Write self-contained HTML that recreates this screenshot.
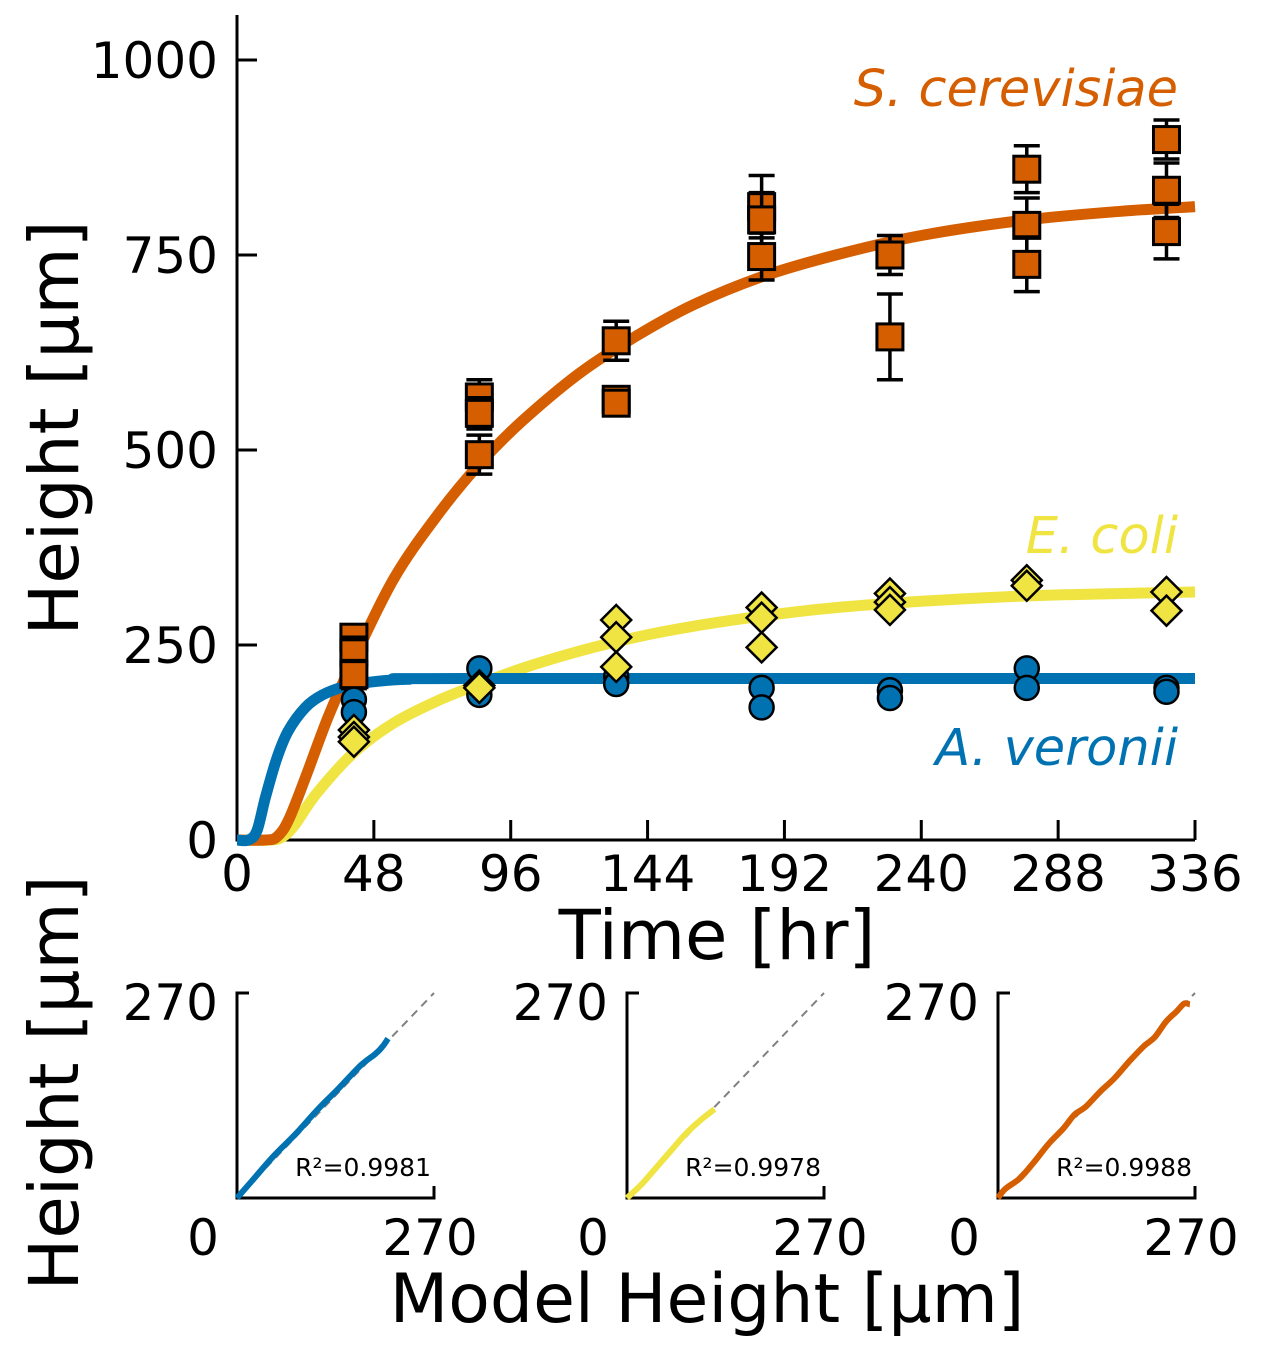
<!DOCTYPE html>
<html><head><meta charset="utf-8"><style>
html,body{margin:0;padding:0;background:#fff;}
svg{display:block;font-family:"DejaVu Sans","Liberation Sans",sans-serif;}
</style></head><body>
<svg id="c" width="1270" height="1350" viewBox="0 0 1270 1350" xmlns="http://www.w3.org/2000/svg"></svg>
<script>
// ---- main chart data ----
const xTicks = [0,48,96,144,192,240,288,336];
const yTicks = [0,250,500,750,1000];
const scTimes = [41,41,41,85,85,85,133,133,133,184,184,184,229,229,277,277,277,326,326,326];
const scVals  = [260,240,212,568,547,494,640,565,560,812,795,748,750,645,860,788,738,898,833,780];
const scErr   = [15,20,18,22,20,25,25,15,15,40,35,30,25,55,30,35,35,25,35,35];
const ecTimes = [41,41,41,85,85,133,133,133,184,184,184,229,229,229,277,277,326,326];
const ecVals  = [141,132,126,198,195,282,260,222,298,285,247,316,305,295,333,326,318,294];
const avTimes = [41,41,85,85,133,133,184,184,229,229,277,277,326,326];
const avVals  = [180,164,220,186,210,200,195,170,192,182,220,195,195,190];
// fitted curves
const avCurveT = [0,4,7,10,14,18,24,30,38,48,60,80,336];
const avCurveH = [0,0,12,55,105,140,170,186,197,203,206,207,207];
const scCurveT = [0,10,14,18,24,32,41,55,70,85,100,120,140,160,184,210,240,277,310,336];
const scCurveH = [0,0,4,25,80,158,232,335,415,482,537,598,646,686,722,750,775,795,806,812];
const ecCurveT = [0,12,16,20,28,41,55,70,85,100,120,140,160,184,210,240,277,310,336];
const ecCurveH = [0,0,4,18,60,112,150,178,200,220,242,260,274,287,298,306,313,316,318];
// ---- QQ panels ----
const qqTicks = [0,270];
const avModel = [0,20,50,80,110,140,170,190,200,207];
const avObs   = [0,22,55,84,116,145,175,190,200,210];
const ecModel = [0,20,40,60,80,100,120];
const ecObs   = [0,18,40,62,84,102,117];
const scModel = [0,10,30,50,70,90,105,120,140,160,180,200,215,230,245,255,263];
const scObs   = [0,12,26,48,72,92,110,120,140,158,180,200,212,232,246,256,255];
const r2Labels = ["R²=0.9981","R²=0.9978","R²=0.9988"];

const BLUE="#0072B2", YEL="#F0E442", ORG="#D55E00";
const svg=document.getElementById('c');
const NS="http://www.w3.org/2000/svg";
function mk(tag,attrs,parent){const e=document.createElementNS(NS,tag);for(const k in attrs)e.setAttribute(k,attrs[k]);(parent||svg).appendChild(e);return e;}
function smooth(P){
  let d='M'+P[0][0].toFixed(1)+','+P[0][1].toFixed(1);
  for(let i=0;i<P.length-1;i++){
    const p0=P[Math.max(0,i-1)],p1=P[i],p2=P[i+1],p3=P[Math.min(P.length-1,i+2)];
    const c1=[p1[0]+(p2[0]-p0[0])/6,p1[1]+(p2[1]-p0[1])/6];
    const c2=[p2[0]-(p3[0]-p1[0])/6,p2[1]-(p3[1]-p1[1])/6];
    d+=` C${c1[0].toFixed(1)},${c1[1].toFixed(1)} ${c2[0].toFixed(1)},${c2[1].toFixed(1)} ${p2[0].toFixed(1)},${p2[1].toFixed(1)}`;
  }
  return d;
}

const X0=237,X1=1195,Y0=840,Y1=60;
const sx=t=>X0+(t-0)/336*(X1-X0);
const sy=v=>Y0-(v/1000)*(Y0-Y1);

let g=mk('g',{});


let a=mk('line',{x1:X0,y1:15,x2:X0,y2:Y0+1.5,stroke:'#000','stroke-width':3},g);


a=mk('line',{x1:X0-1.5,y1:Y0,x2:X1,y2:Y0,stroke:'#000','stroke-width':3},g);


xTicks.forEach(t=>{
  if(t>0){const l=mk('line',{x1:sx(t),y1:Y0,x2:sx(t),y2:Y0-20,stroke:'#000','stroke-width':3},g);
  
  }
  const tx=mk('text',{x:sx(t),y:891,'font-size':50,'text-anchor':'middle'},g);tx.textContent=t;
  
  
});
yTicks.forEach(v=>{
  if(v>0){const l=mk('line',{x1:X0,y1:sy(v),x2:X0+20,y2:sy(v),stroke:'#000','stroke-width':3},g);
  
  }
  const tx=mk('text',{x:218,y:sy(v)+18,'font-size':50,'text-anchor':'end'},g);tx.textContent=v;
  
  
});
let t=mk('text',{x:717,y:959,'font-size':69,'text-anchor':'middle'});t.textContent='Time [hr]';


t=mk('text',{x:0,y:0,'font-size':69,'text-anchor':'middle',transform:'translate(78,428) rotate(-90)'});t.textContent='Height [µm]';



function curve(T,H,col,name){
  const p=mk('path',{d:smooth(T.map((tt,i)=>[sx(tt),sy(H[i])])),fill:'none',stroke:col,'stroke-width':11,'stroke-linejoin':'round'});
  
  
}
curve(ecCurveT,ecCurveH,YEL,'e-coli-fit-curve');
curve(scCurveT,scCurveH,ORG,'s-cerevisiae-fit-curve');
curve(avCurveT,avCurveH,BLUE,'a-veronii-fit-curve');

scTimes.forEach((tt,i)=>{
  const x=sx(tt),y=sy(scVals[i]),yt=sy(scVals[i]+scErr[i]),yb=sy(scVals[i]-scErr[i]);
  const eg=mk('g',{stroke:'#000','stroke-width':3.5});
  
  
  mk('line',{x1:x,y1:yt,x2:x,y2:yb},eg);
  mk('line',{x1:x-13,y1:yt,x2:x+13,y2:yt},eg);
  mk('line',{x1:x-13,y1:yb,x2:x+13,y2:yb},eg);
  const r=mk('rect',{x:x-13,y:y-13,width:26,height:26,fill:ORG,stroke:'#000','stroke-width':3});
  
  
});
avTimes.forEach((tt,i)=>{
  const c=mk('circle',{cx:sx(tt),cy:sy(avVals[i]),r:12,fill:BLUE,stroke:'#000','stroke-width':2.5});
  
  
});
ecTimes.forEach((tt,i)=>{
  const x=sx(tt),y=sy(ecVals[i]),s=15;
  const p=mk('polygon',{points:`${x},${y-s} ${x+s},${y} ${x},${y+s} ${x-s},${y}`,fill:YEL,stroke:'#000','stroke-width':2.5});
  
  
});
[['S. cerevisiae',ORG,106,'s-cerevisiae-label'],['E. coli',YEL,553,'e-coli-label'],['A. veronii',BLUE,765,'a-veronii-label']].forEach(o=>{
  const tx=mk('text',{x:1178,y:o[2],'font-size':51,'font-style':'italic','text-anchor':'end',fill:o[1]});tx.textContent=o[0];
  
  
});

const panels=[{x0:237,m:avModel,o:avObs,c:BLUE,n:'a-veronii'},{x0:627,m:ecModel,o:ecObs,c:YEL,n:'e-coli'},{x0:998,m:scModel,o:scObs,c:ORG,n:'s-cerevisiae'}];
const PW=197,PT=993,PB=1198;
panels.forEach((p,k)=>{
  const qx=v=>p.x0+v/270*PW, qy=v=>PB-v/270*(PB-PT);
  const pg=mk('g',{});
  
  
  mk('path',{d:`M${p.x0+12},${PT} L${p.x0},${PT} L${p.x0},${PB} L${p.x0+PW},${PB} L${p.x0+PW},${PB-12}`,fill:'none',stroke:'#000','stroke-width':3},pg);
  const dl=mk('line',{x1:qx(0),y1:qy(0),x2:qx(270),y2:qy(270),stroke:'#808080','stroke-width':2,'stroke-dasharray':'8,6'},pg);
  
  
  const ln=mk('path',{d:smooth(p.m.map((v,i)=>[qx(v),qy(p.o[i])])),fill:'none',stroke:p.c,'stroke-width':6,'stroke-linejoin':'round'},pg);
  
  
  let tx=mk('text',{x:p.x0-19,y:PT+27,'font-size':50,'text-anchor':'end'},pg);tx.textContent=qqTicks[1];
  
  
  tx=mk('text',{x:p.x0-34,y:1255,'font-size':50,'text-anchor':'middle'},pg);tx.textContent=qqTicks[0];
  
  
  tx=mk('text',{x:p.x0+PW-4,y:1255,'font-size':50,'text-anchor':'middle'},pg);tx.textContent=qqTicks[1];
  
  
  tx=mk('text',{x:p.x0+PW-3,y:1176,'font-size':25,'text-anchor':'end'},pg);tx.textContent=r2Labels[k];
  
  
});
t=mk('text',{x:707,y:1322,'font-size':68,'text-anchor':'middle'});t.textContent='Model Height [µm]';


t=mk('text',{x:0,y:0,'font-size':69,'text-anchor':'middle',transform:'translate(78,1083) rotate(-90)'});t.textContent='Height [µm]';


</script>
</body></html>
